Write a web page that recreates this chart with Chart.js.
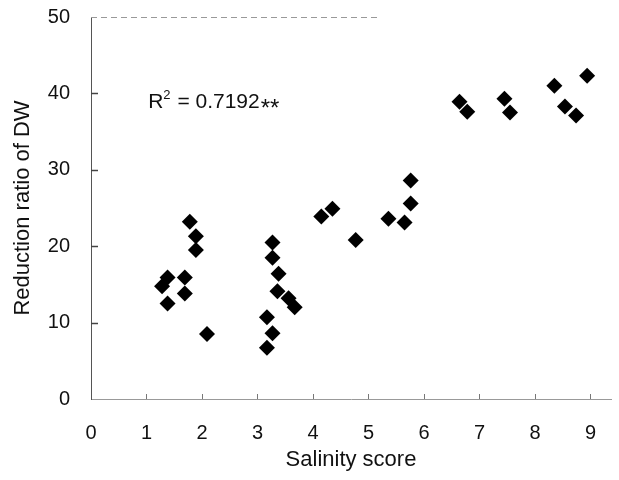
<!DOCTYPE html>
<html>
<head>
<meta charset="utf-8">
<script src="https://cdn.jsdelivr.net/npm/chart.js@4.4.1/dist/chart.umd.min.js"></script>
<style>
  html, body { margin: 0; padding: 0; background: #ffffff; }
  #wrap { width: 619px; height: 480px; }
</style>
</head>
<body>
<div id="wrap"><canvas id="c" width="619" height="480"></canvas></div>
<script>
// ---- data ----
const salinityScore = [
  1.28, 1.38, 1.38, 1.69, 1.69, 1.78, 1.89, 1.89, 2.09,
  3.27, 3.27, 3.38, 3.36, 3.56, 3.67, 3.17, 3.27, 3.17,
  4.15, 4.35, 4.77, 5.36, 5.65, 5.76, 5.76,
  6.64, 6.78, 7.45, 7.55, 8.35, 8.54, 8.74, 8.94
];
const reductionDW = [
  14.75, 15.9, 12.5, 15.9, 13.8, 23.2, 21.3, 19.5, 8.5,
  20.5, 18.5, 16.4, 14.1, 13.2, 12.0, 10.7, 8.6, 6.7,
  23.9, 24.9, 20.8, 23.6, 23.1, 25.6, 28.6,
  38.9, 37.6, 39.3, 37.5, 41.0, 38.3, 37.1, 42.3
];
const xTickValues = [0, 1, 2, 3, 4, 5, 6, 7, 8, 9];
const yTickValues = [0, 10, 20, 30, 40, 50];
const xTitle = "Salinity score";
const yTitle = "Reduction ratio of DW";
const r2Label = { base: "R", sup: "2", rest: " = 0.7192", stars: "**", x: 1.03, y: 39.0 };

const points = salinityScore.map((x, i) => ({ x: x, y: reductionDW[i] }));
const FONT = "'Liberation Sans', Arial, sans-serif";

const decorPlugin = {
  id: 'decor',
  afterDraw(chart) {
    const ctx = chart.ctx;
    const xs = chart.scales.x, ys = chart.scales.y;
    const left = xs.left, bottom = ys.bottom;
    ctx.save();
    // inward tick marks on y axis
    ctx.strokeStyle = '#444';
    ctx.lineWidth = 1.5;
    yTickValues.forEach(v => {
      if (v === 0 || v === 50) return;
      const py = Math.round(ys.getPixelForValue(v)) + 0.5;
      ctx.beginPath(); ctx.moveTo(left, py); ctx.lineTo(left + 7, py); ctx.stroke();
    });
    // inward tick marks on x axis
    ctx.strokeStyle = '#777';
    ctx.lineWidth = 1;
    xTickValues.forEach(v => {
      if (v === 0) return;
      const px = Math.round(xs.getPixelForValue(v)) + 0.5;
      ctx.beginPath(); ctx.moveTo(px, bottom); ctx.lineTo(px, bottom - 5); ctx.stroke();
    });
    // faint top line
    ctx.strokeStyle = '#999';
    ctx.setLineDash([6, 4]);
    const ty = Math.round(ys.getPixelForValue(50)) + 0.5;
    ctx.beginPath(); ctx.moveTo(left, ty); ctx.lineTo(xs.getPixelForValue(5.2), ty); ctx.stroke();
    ctx.setLineDash([]);
    // R^2 annotation
    const ax = xs.getPixelForValue(r2Label.x);
    const ay = ys.getPixelForValue(r2Label.y);
    ctx.fillStyle = '#111';
    ctx.textBaseline = 'alphabetic';
    ctx.textAlign = 'left';
    const base = ay + 7;
    ctx.font = '21px ' + FONT;
    ctx.fillText(r2Label.base, ax, base);
    let cx = ax + ctx.measureText(r2Label.base).width;
    ctx.font = '13px ' + FONT;
    ctx.fillText(r2Label.sup, cx, base - 9);
    cx += ctx.measureText(r2Label.sup).width + 1;
    ctx.font = '21px ' + FONT;
    ctx.fillText(r2Label.rest, cx, base);
    cx += ctx.measureText(r2Label.rest).width;
    ctx.font = '24px ' + FONT;
    ctx.fillText(r2Label.stars, cx + 1, base + 8);
    ctx.restore();
  }
};

new Chart(document.getElementById('c'), {
  type: 'scatter',
  data: {
    datasets: [{
      data: points,
      pointStyle: 'rectRot',
      pointRadius: 8,
      pointHoverRadius: 8,
      backgroundColor: '#000',
      borderColor: '#000',
      borderWidth: 0
    }]
  },
  options: {
    responsive: false,
    animation: false,
    layout: { padding: { left: 0, right: 7, top: 17, bottom: 0 } },
    plugins: { legend: { display: false }, tooltip: { enabled: false } },
    scales: {
      x: {
        type: 'linear',
        min: 0,
        max: 9.37,
        afterBuildTicks: s => { s.ticks = xTickValues.map(v => ({ value: v })); },
        afterFit: s => { s.height = 81; s.paddingRight = 0; },
        grid: { display: true, drawOnChartArea: false, drawTicks: false },
        border: { display: true, color: '#999', width: 1 },
        ticks: { color: '#111', padding: 22, font: { family: FONT, size: 20 }, maxRotation: 0 },
        title: { display: true, text: xTitle, color: '#111', padding: 7, font: { family: FONT, size: 22 } }
      },
      y: {
        type: 'linear',
        min: 0,
        max: 50,
        afterBuildTicks: s => { s.ticks = yTickValues.map(v => ({ value: v })); },
        afterFit: s => { s.width = 91; s.paddingTop = 0; s.paddingBottom = 0; },
        grid: { display: true, drawOnChartArea: false, drawTicks: false },
        border: { display: true, color: '#555', width: 1 },
        ticks: { color: '#111', padding: 21, font: { family: FONT, size: 20 } },
        title: { display: true, text: yTitle, color: '#111', padding: 10, font: { family: FONT, size: 22 } }
      }
    }
  },
  plugins: [decorPlugin]
});
</script>
</body>
</html>
